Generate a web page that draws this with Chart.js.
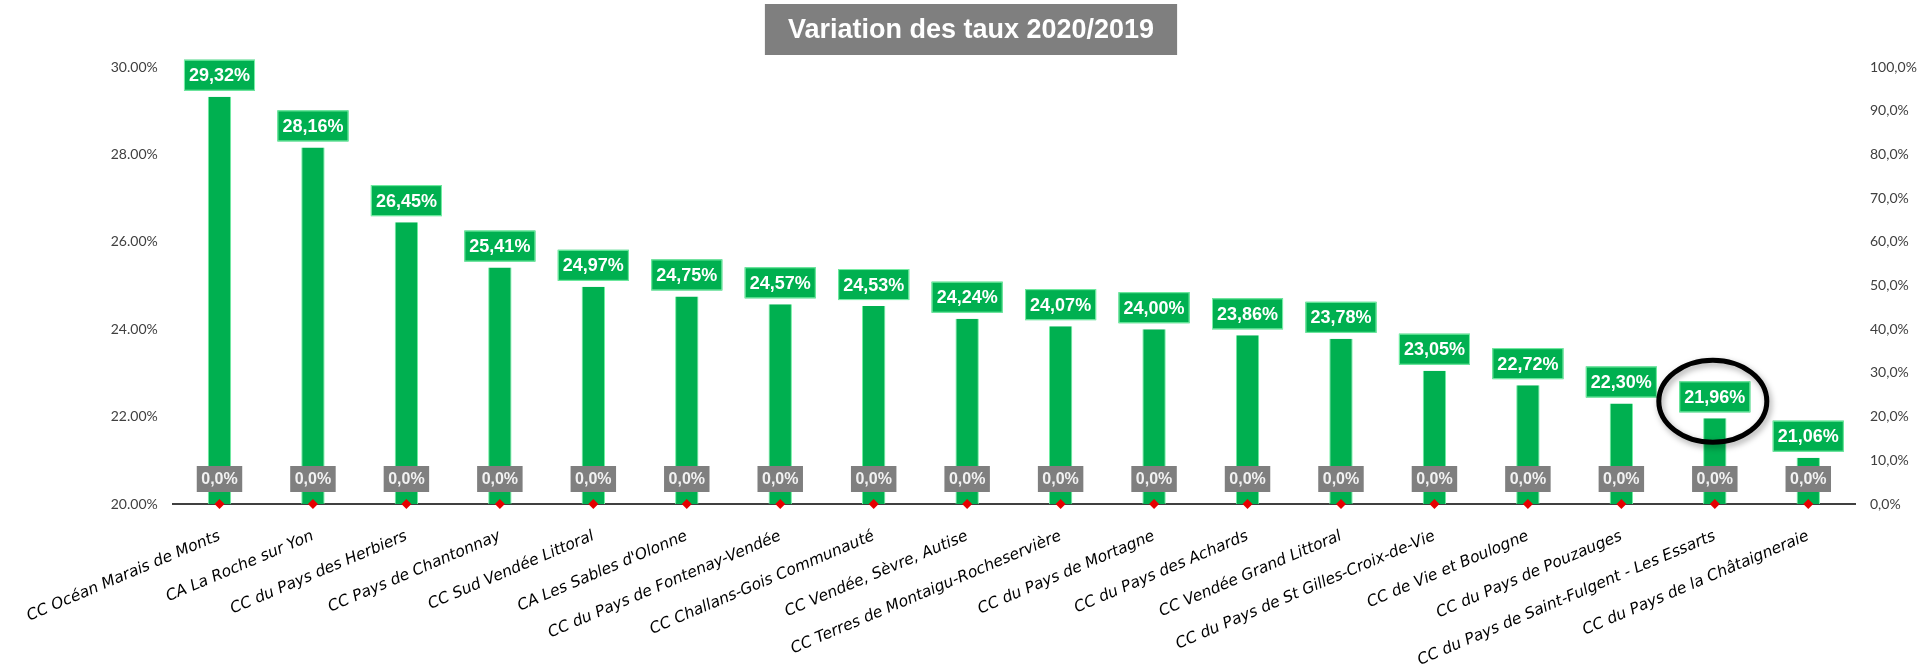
<!DOCTYPE html>
<html>
<head>
<meta charset="utf-8">
<script src="https://cdn.jsdelivr.net/npm/chart.js@4/dist/chart.umd.min.js"></script>
<style>
  html, body { margin: 0; padding: 0; background: #fff; }
  #wrap { width: 1917px; height: 667px; position: relative; }
</style>
</head>
<body>
<div id="wrap"><canvas id="c"></canvas></div>
<script>
// categories (EPCI) and rates
var categories = [
  "CC Océan Marais de Monts",
  "CA La Roche sur Yon",
  "CC du Pays des Herbiers",
  "CC Pays de Chantonnay",
  "CC Sud Vendée Littoral",
  "CA Les Sables d'Olonne",
  "CC du Pays de Fontenay-Vendée",
  "CC Challans-Gois Communauté",
  "CC Vendée, Sèvre, Autise",
  "CC Terres de Montaigu-Rocheservière",
  "CC du Pays de Mortagne",
  "CC du Pays des Achards",
  "CC Vendée Grand Littoral",
  "CC du Pays de St Gilles-Croix-de-Vie",
  "CC de Vie et Boulogne",
  "CC du Pays de Pouzauges",
  "CC du Pays de Saint-Fulgent - Les Essarts",
  "CC du Pays de la Châtaigneraie"
];
var taux2020 = [29.32, 28.16, 26.45, 25.41, 24.97, 24.75, 24.57, 24.53, 24.24,
                24.07, 24.00, 23.86, 23.78, 23.05, 22.72, 22.30, 21.96, 21.06];
var variation = [0, 0, 0, 0, 0, 0, 0, 0, 0, 0, 0, 0, 0, 0, 0, 0, 0, 0];
var highlightIndex = 16;
var titleText = "Variation des taux 2020/2019";

var GREEN = "#00B050";

function frComma(v, d) {
  return v.toFixed(d).replace(".", ",");
}

// title box at the top
var titlePlugin = {
  id: "titleBox",
  afterDraw: function(chart) {
    var ctx = chart.ctx;
    ctx.save();
    ctx.font = "bold 27px 'Liberation Sans'";
    var w = ctx.measureText(titleText).width + 46;
    var cx = 971;
    ctx.fillStyle = "#7F7F7F";
    ctx.fillRect(cx - w / 2, 4, w, 51);
    ctx.fillStyle = "#fff";
    ctx.textAlign = "center";
    ctx.textBaseline = "middle";
    ctx.fillText(titleText, cx, 31);
    ctx.restore();
  }
};

// value boxes above bars, grey boxes above the line points, circle on highlight
var labelPlugin = {
  id: "valueBoxes",
  afterDatasetsDraw: function(chart) {
    var ctx = chart.ctx;
    ctx.save();
    ctx.textAlign = "center";
    ctx.textBaseline = "middle";

    var bars = chart.getDatasetMeta(0).data;
    ctx.font = "bold 18px 'Liberation Sans'";
    bars.forEach(function(bar, i) {
      var txt = frComma(taux2020[i], 2) + "%";
      var w = ctx.measureText(txt).width + 10;
      var h = 31;
      var bottom = bar.y - 6;
      ctx.fillStyle = GREEN;
      ctx.fillRect(bar.x - w / 2, bottom - h, w, h);
      ctx.strokeStyle = "#7af0a8";
      ctx.lineWidth = 1;
      ctx.strokeRect(bar.x - w / 2 + 0.5, bottom - h + 0.5, w - 1, h - 1);
      ctx.fillStyle = "#fff";
      ctx.fillText(txt, bar.x, bottom - h / 2 + 1);
    });

    var pts = chart.getDatasetMeta(1).data;
    ctx.font = "bold 16px 'Liberation Sans'";
    pts.forEach(function(p, i) {
      var txt = frComma(variation[i] * 100, 1) + "%";
      var w = ctx.measureText(txt).width + 9;
      var h = 26;
      var bottom = p.y - 12;
      ctx.fillStyle = "#7F7F7F";
      ctx.fillRect(p.x - w / 2, bottom - h, w, h);
      ctx.fillStyle = "#F2F2F2";
      ctx.fillText(txt, p.x, bottom - h / 2 + 1);
    });

    // highlight ellipse
    var hb = bars[highlightIndex];
    var cy = hb.y - 17;
    ctx.shadowColor = "rgba(0,0,0,0.35)";
    ctx.shadowBlur = 6;
    ctx.shadowOffsetX = 2;
    ctx.shadowOffsetY = 3;
    ctx.strokeStyle = "#000";
    ctx.lineWidth = 5;
    ctx.beginPath();
    ctx.ellipse(hb.x - 2, cy, 54, 41, 0, 0, Math.PI * 2);
    ctx.stroke();
    ctx.restore();
  }
};

var chart = new Chart(document.getElementById("c"), {
  data: {
    labels: categories,
    datasets: [
      {
        type: "bar",
        label: "Taux 2020",
        data: taux2020,
        yAxisID: "y",
        backgroundColor: GREEN,
        borderColor: "#6ef0a0",
        borderWidth: { left: 1, right: 1, top: 0, bottom: 0 },
        barPercentage: 0.25,
        categoryPercentage: 1,
        order: 2
      },
      {
        type: "line",
        label: "Variation",
        data: variation,
        yAxisID: "y1",
        showLine: false,
        pointStyle: "rectRot",
        pointRadius: 5,
        pointBackgroundColor: "#E60000",
        pointBorderColor: "#E60000",
        pointBorderWidth: 0,
        order: 1,
        clip: false
      }
    ]
  },
  options: {
    responsive: true,
    maintainAspectRatio: false,
    animation: false,
    layout: { padding: { top: 67, left: 0, right: 0, bottom: 0 } },
    plugins: {
      legend: { display: false },
      tooltip: { enabled: false }
    },
    scales: {
      x: {
        grid: { display: false, drawTicks: false },
        border: { display: true, color: "#404040", width: 2 },
        ticks: {
          autoSkip: false,
          minRotation: 23,
          maxRotation: 23,
          padding: 23,
          color: "#000",
          font: { family: "'DejaVu Sans'", size: 15.5, style: "italic" }
        },
        afterFit: function(s) { s.height = 163; }
      },
      y: {
        position: "left",
        min: 20,
        max: 30,
        grid: { display: false, drawTicks: false },
        border: { display: false },
        ticks: {
          stepSize: 2,
          padding: 15,
          color: "#404040",
          font: { family: "Lato", size: 14 },
          callback: function(v) { return v.toFixed(2) + "%"; }
        },
        afterFit: function(s) { s.width = 172; }
      },
      y1: {
        position: "right",
        min: 0,
        max: 1,
        grid: { display: false, drawTicks: false },
        border: { display: false },
        ticks: {
          stepSize: 0.1,
          padding: 15,
          color: "#404040",
          font: { family: "Lato", size: 14 },
          callback: function(v) { return frComma(v * 100, 1) + "%"; }
        },
        afterFit: function(s) { s.width = 62; }
      }
    }
  },
  plugins: [titlePlugin, labelPlugin]
});
</script>
</body>
</html>
